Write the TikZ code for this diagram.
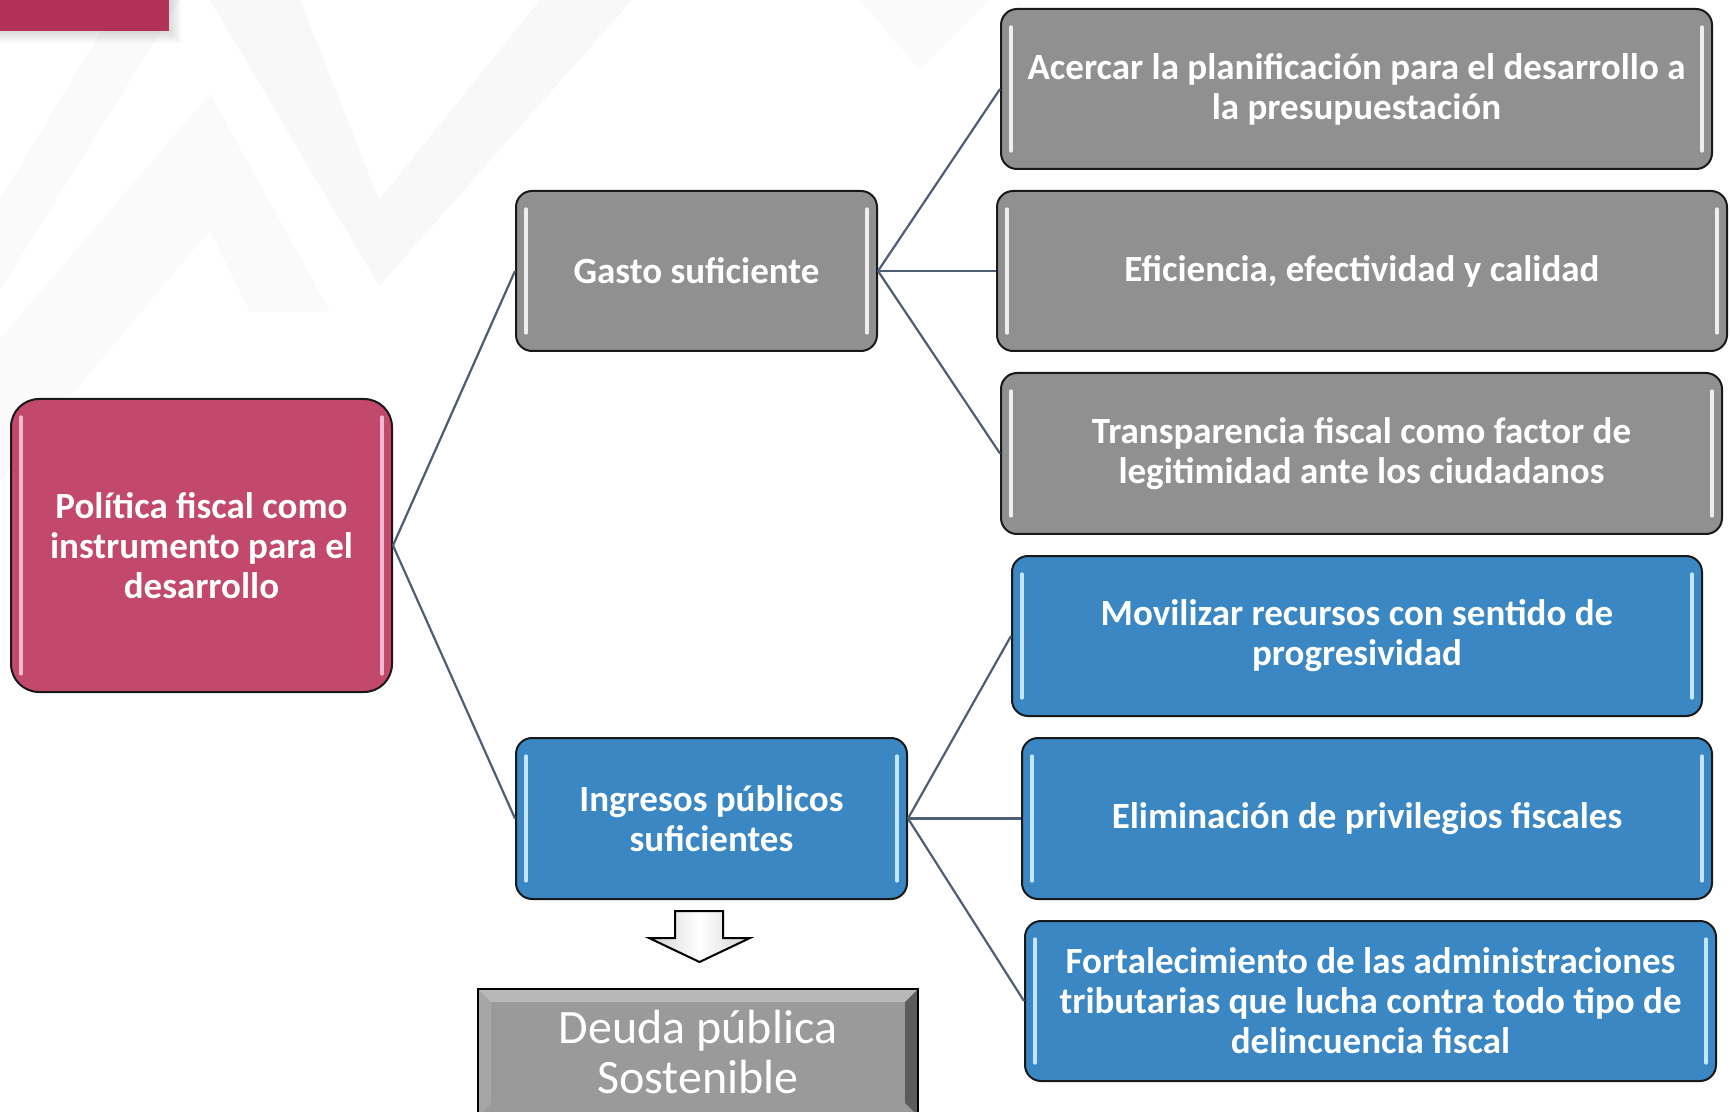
\documentclass[tikz,border=0pt]{standalone}
\usepackage{fontspec}
\setmainfont{Carlito}
\definecolor{boxgray}{HTML}{909090}
\definecolor{boxblue}{HTML}{3A87C3}
\definecolor{rootpink}{HTML}{C2486C}
\definecolor{tabpink}{HTML}{B23158}
\definecolor{linkcol}{HTML}{4E5E73}
\definecolor{blueshine}{HTML}{C5E6FA}
\definecolor{pinkshine}{HTML}{F4B8CC}
\definecolor{deudagray}{HTML}{9A9A9A}
\definecolor{bgchevron}{HTML}{F3F3F4}
\tikzset{
  box/.style={draw=black!90, line width=1pt, rounded corners=8pt, align=center,
    text=white, font=\bfseries\fontsize{18.5}{20}\selectfont, inner sep=0pt},
  shine/.style={path picture={
    \draw[#1, line width=1.6pt, line cap=round]
      ([xshift=5pt,yshift=-9pt]path picture bounding box.north west) -- ([xshift=5pt,yshift=9pt]path picture bounding box.south west)
      ([xshift=-5pt,yshift=-9pt]path picture bounding box.north east) -- ([xshift=-5pt,yshift=9pt]path picture bounding box.south east);}},
  graybox/.style={box, fill=boxgray, shine=white!85!boxgray},
  bluebox/.style={box, fill=boxblue, shine=blueshine},
  rootbox/.style={box, fill=rootpink, shine=pinkshine, rounded corners=14pt},
  deudabox/.style={draw=black, line width=1.2pt, fill=deudagray, text=white, align=center,
    inner sep=0pt, font=\fontsize{24}{25}\selectfont, path picture={
    \fill[white, opacity=0.3] (path picture bounding box.north west) -- (path picture bounding box.north east)
      -- ([shift={(-6.5pt,-6.5pt)}]path picture bounding box.north east) -- ([shift={(6.5pt,-6.5pt)}]path picture bounding box.north west) -- cycle;
    \fill[black, opacity=0.4] (path picture bounding box.north east) -- (path picture bounding box.south east)
      -- ([shift={(-6.5pt,6.5pt)}]path picture bounding box.south east) -- ([shift={(-6.5pt,-6.5pt)}]path picture bounding box.north east) -- cycle;
    \fill[white, opacity=0.12] (path picture bounding box.north west) -- (path picture bounding box.south west)
      -- ([shift={(6.5pt,6.5pt)}]path picture bounding box.south west) -- ([shift={(6.5pt,-6.5pt)}]path picture bounding box.north west) -- cycle;}},
  link/.style={draw=linkcol, line width=1.1pt},
}
\begin{document}
\begin{tikzpicture}[x=0.5pt, y=-0.5pt]
  \useasboundingbox (0,0) rectangle (1730,1112);
  % background
  \fill[bgchevron, opacity=0.45] (0,339) -- (210,94) -- (330,312) -- (250,312) -- (210,230) -- (0,480) -- cycle;
  \fill[bgchevron, opacity=0.6] (210,0) -- (379,286) -- (632,0) -- (540,0) -- (379,200) -- (300,0) -- cycle;
  \fill[bgchevron, opacity=0.4] (0,200) -- (120,0) -- (180,0) -- (0,290) -- cycle;
  \fill[bgchevron, opacity=0.45] (860,0) -- (920,70) -- (990,0) -- cycle;
  \foreach \s in {2,4,...,12}
    \fill[black, opacity=0.025] (0,0) rectangle (169+\s,31+\s);
  \fill[tabpink] (0,0) rectangle (169,31);

  % nodes
  \node[rootbox, minimum width=190.5pt, minimum height=146.5pt] (root) at (201.5,545.5)
    {Política fiscal como\\instrumento para el\\desarrollo};
  \node[graybox, minimum width=180.5pt, minimum height=80pt] (gasto) at (696.5,271) {Gasto suficiente};
  \node[bluebox, minimum width=195.5pt, minimum height=80.5pt] (ing) at (711.5,818.5) {Ingresos públicos\\suficientes};
  \node[deudabox, minimum width=220pt, minimum height=63.5pt] (deuda) at (698,1052.5) {Deuda pública\\Sostenible};

  \node[graybox, minimum width=355.5pt, minimum height=80pt] (acercar) at (1356.5,89)
    {Acercar la planificación para el desarrollo a\\la presupuestación};
  \node[graybox, minimum width=365pt, minimum height=80pt] (efic) at (1362,271)
    {Eficiencia, efectividad y calidad};
  \node[graybox, minimum width=360.5pt, minimum height=80.5pt] (transp) at (1361.5,453.5)
    {Transparencia fiscal como factor de\\legitimidad ante los ciudadanos};
  \node[bluebox, minimum width=345pt, minimum height=80pt] (movil) at (1357,636)
    {Movilizar recursos con sentido de\\progresividad};
  \node[bluebox, minimum width=345pt, minimum height=80.5pt] (elim) at (1367,818.5)
    {Eliminación de privilegios fiscales};
  \node[bluebox, minimum width=345.5pt, minimum height=80pt] (fort) at (1370.5,1001)
    {Fortalecimiento de las administraciones\\tributarias que lucha contra todo tipo de\\delincuencia fiscal};

  % links
  \draw[link] (root.east) -- (gasto.west);
  \draw[link] (root.east) -- (ing.west);
  \foreach \n in {acercar,efic,transp}
    \draw[link] (gasto.east) -- (\n.west);
  \foreach \n in {movil,elim,fort}
    \draw[link] (ing.east) -- (\n.west);

  % block arrow
  \draw[line width=1pt, left color=gray!35, right color=gray!35, middle color=white]
    (675,911) -- (723,911) -- (723,938) -- (750,938) -- (699.5,962) -- (649,938) -- (675,938) -- cycle;
\end{tikzpicture}
\end{document}
